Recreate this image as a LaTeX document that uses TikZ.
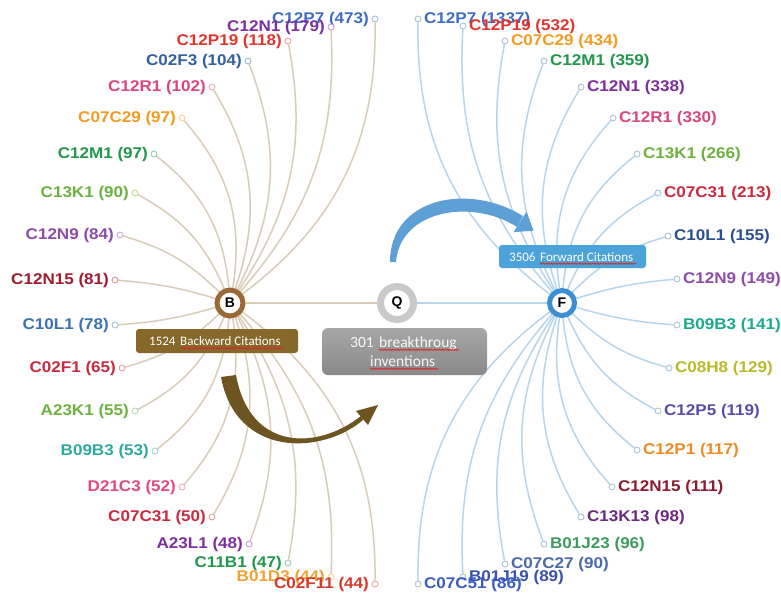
\documentclass[tikz,border=0pt]{standalone}
\usepackage{fontspec}
\usetikzlibrary{calc,decorations.pathmorphing}
\newfontfamily\lblfont{Liberation Sans}[FakeStretch=1.1]
\newfontfamily\hubfont{Liberation Sans}
\newfontfamily\boxfont{Carlito}
\definecolor{spellred}{HTML}{D42A2A}
% label palette
\definecolor{pBlue}{HTML}{3D6DC4}
\definecolor{pPurple}{HTML}{7E2E9E}
\definecolor{pRed}{HTML}{E2352B}
\definecolor{pSteel}{HTML}{35609F}
\definecolor{pPink}{HTML}{D94680}
\definecolor{pOrange}{HTML}{F39B22}
\definecolor{pGreen}{HTML}{22974B}
\definecolor{pLime}{HTML}{6DB13E}
\definecolor{pViolet}{HTML}{8E4BA8}
\definecolor{pDarkRed}{HTML}{A01C2C}
\definecolor{pMidBlue}{HTML}{3B72B2}
\definecolor{pCrimson}{HTML}{C92B3F}
\definecolor{pTeal}{HTML}{2EA8A3}
\definecolor{pRose}{HTML}{E04A7E}
\definecolor{pAmber}{HTML}{F0A232}
\definecolor{pVermil}{HTML}{D63A2C}
\definecolor{pNavy}{HTML}{2C4E8E}
\definecolor{pSea}{HTML}{1BAA8E}
\definecolor{pOlive}{HTML}{B9BA2C}
\definecolor{pIndigo}{HTML}{5B4BAA}
\definecolor{pTangerine}{HTML}{F08B24}
\definecolor{pMaroon}{HTML}{8B1B2D}
\definecolor{pPlum}{HTML}{6B2A7E}
\definecolor{pFern}{HTML}{3C9B5E}
\definecolor{pSlate}{HTML}{4A6BAA}
\definecolor{pRoyal}{HTML}{3A52AC}
\definecolor{pCobalt}{HTML}{3B5CC2}
% structure colours
\definecolor{lineTan}{HTML}{D9CDB9}
\definecolor{lineBlue}{HTML}{B7D5EB}
\definecolor{ringB}{HTML}{9A6A36}
\definecolor{ringQ}{HTML}{C9C9C9}
\definecolor{ringF}{HTML}{3D8FD1}
\definecolor{boxBrown}{HTML}{86692A}
\definecolor{boxBlue}{HTML}{4BA3D9}
\definecolor{boxGrayTop}{HTML}{A6A6A6}
\definecolor{boxGrayBot}{HTML}{8A8A8A}
\definecolor{arrBrown}{HTML}{6E5421}
\definecolor{arrBlue}{HTML}{5E9FD6}
\pgfdeclarelayer{bg}
\pgfsetlayers{bg,main}

\begin{document}
\begin{tikzpicture}[x=1pt,y=-1pt,
  lline/.style={line width=1.5pt, draw=lineTan},
  rline/.style={line width=1.5pt, draw=lineBlue},
  endpt/.style={circle, minimum size=6pt, inner sep=0pt, line width=0.9pt, fill=white},
  lbl/.style={font=\lblfont\bfseries\fontsize{15.5}{16}\selectfont, inner sep=0pt},
  hub/.style={circle, fill=white, inner sep=0pt, font=\hubfont\bfseries\fontsize{14}{14}\selectfont},
  citebox/.style={rounded corners=3pt, inner sep=0pt},
  boxtxt/.style={inner sep=0pt, anchor=base west, text=white, font=\boxfont\fontsize{13}{15}\selectfont},
  bigtxt/.style={inner sep=0pt, anchor=base west, text=white!95!gray, font=\boxfont\fontsize{15.5}{18}\selectfont},
  spell/.style={spellred, line width=0.7pt, decorate,
        decoration={snake, amplitude=0.8pt, segment length=2.6pt}}
]
\useasboundingbox (0,0) rectangle (781,595);
\begin{pgfonlayer}{bg}
  \fill[white] (0,0) rectangle (781,595);
\end{pgfonlayer}

% hubs
\node[hub, draw=ringB, line width=5pt, minimum size=26pt] (B) at (230,303) {B};
\node[hub, draw=ringQ, line width=7pt, minimum size=33pt] (Q) at (397,303) {Q};
\node[hub, draw=ringF, line width=5pt, minimum size=25pt] (F) at (562,303) {F};

\begin{pgfonlayer}{bg}
  \draw[lline] (B) -- (Q);
  \draw[rline] (Q) -- (F);
\end{pgfonlayer}

% backward citation classes
\foreach \n/\x/\y/\t/\c/\b in {
  l1/375/19/C12P7 (473)/pBlue/27,
  l2/331/27/C12N1 (179)/pPurple/22,
  l3/288/41/C12P19 (118)/pRed/22,
  l4/248/61/C02F3 (104)/pSteel/24,
  l5/212/87/C12R1 (102)/pPink/25,
  l6/182/118/C07C29 (97)/pOrange/25,
  l7/154/154/C12M1 (97)/pGreen/23,
  l8/135/193/C13K1 (90)/pLime/19,
  l9/120/235/C12N9 (84)/pViolet/14,
  l10/115/280/C12N15 (81)/pDarkRed/6,
  l11/115/325/C10L1 (78)/pMidBlue/-6,
  l12/122/368/C02F1 (65)/pCrimson/-14,
  l13/135/411/A23K1 (55)/pLime/-19,
  l14/155/451/B09B3 (53)/pTeal/-23,
  l15/182/487/D21C3 (52)/pRose/-25,
  l16/212/517/C07C31 (50)/pCrimson/-25,
  l17/249/544/A23L1 (48)/pPurple/-24,
  l18/288/563/C11B1 (47)/pGreen/-22,
  l19/331/577/B01D3 (44)/pAmber/-22,
  l20/375/584/C02F11 (44)/pVermil/-27}
{
  \node[endpt, draw=\c!45] (\n) at (\x,\y) {};
  \node[lbl, text=\c, anchor=east] (\n-t) at ([xshift=-2.5pt]\n.west) {\t};
  \begin{pgfonlayer}{bg}
    \draw[lline] (B) to[bend right=\b] (\n);
  \end{pgfonlayer}
}

% forward citation classes
\foreach \n/\x/\y/\t/\c/\b in {
  r1/418/19/C12P7 (1337)/pBlue/27,
  r2/463/26/C12P19 (532)/pRed/22,
  r3/505/41/C07C29 (434)/pOrange/22,
  r4/544/61/C12M1 (359)/pGreen/24,
  r5/581/87/C12N1 (338)/pPurple/25,
  r6/613/118/C12R1 (330)/pPink/25,
  r7/637/154/C13K1 (266)/pLime/23,
  r8/658/193/C07C31 (213)/pCrimson/19,
  r9/668/236/C10L1 (155)/pNavy/14,
  r10/677/279/C12N9 (149)/pViolet/6,
  r11/677/325/B09B3 (141)/pSea/-6,
  r12/669/368/C08H8 (129)/pOlive/-14,
  r13/658/411/C12P5 (119)/pIndigo/-19,
  r14/637/450/C12P1 (117)/pTangerine/-23,
  r15/612/487/C12N15 (111)/pMaroon/-25,
  r16/581/517/C13K13 (98)/pPlum/-25,
  r17/544/544/B01J23 (96)/pFern/-24,
  r18/505/564/C07C27 (90)/pSlate/-22,
  r19/463/577/B01J19 (89)/pRoyal/-22,
  r20/418/584/C07C51 (86)/pCobalt/-27}
{
  \node[endpt, draw=lineBlue!80!gray] (\n) at (\x,\y) {};
  \node[lbl, text=\c, anchor=west] (\n-t) at ([xshift=2.5pt]\n.east) {\t};
  \begin{pgfonlayer}{bg}
    \draw[rline] (F) to[bend left=\b] (\n);
  \end{pgfonlayer}
}

% caption boxes
\node[citebox, fill=boxBrown, minimum width=162pt, minimum height=24pt] (bbox) at (217,341) {};
\node[boxtxt] (bnum) at (149,345.5) {1524};
\node[boxtxt] (bword) at (180,345.5) {Backward Citations};
\draw[spell] ([yshift=-2.6pt]bword.base west) -- ([yshift=-2.6pt, xshift=3pt]bword.base east);

\node[citebox, fill=boxBlue, minimum width=147pt, minimum height=23pt] (fbox) at (572.5,256.5) {};
\node[boxtxt] (fnum) at (509,261) {3506};
\node[boxtxt] (fword) at (540,261) {Forward Citations};
\draw[spell] ([yshift=-2.6pt]fword.base west) -- ([yshift=-2.6pt, xshift=3pt]fword.base east);

\node[rounded corners=6pt, inner sep=0pt, minimum width=165pt, minimum height=47pt,
      top color=boxGrayTop, bottom color=boxGrayBot] (qbox) at (404.5,351.5) {};
\node[bigtxt] (qnum) at (350,347) {301};
\node[bigtxt] (qword) at (379,347) {breakthroug};
\node[bigtxt] (qword2) at (370,366) {inventions};
\draw[spell] ([yshift=-2.8pt]qword.base west) -- ([yshift=-2.8pt, xshift=2pt]qword.base east);
\draw[spell] ([yshift=-2.8pt]qword2.base west) -- ([yshift=-2.8pt, xshift=3pt]qword2.base east);

% brown sweep arrow (backward -> query)
\fill[arrBrown] (221,377) .. controls (236,458) and (322,455) .. (363,420)
  -- (361,416) .. controls (318,450) and (250,452) .. (236,375) -- cycle;
\fill[arrBrown] (368,425) -- (378,405) -- (356,411) -- cycle;

% blue sweep arrow (query -> forward)
\fill[arrBlue] (390,262) .. controls (390,198) and (468,182) .. (523,216)
  -- (517,227) .. controls (472,198) and (400,210) .. (396,262) -- cycle;
\fill[arrBlue] (513.5,232.2) -- (533.6,230.6) -- (526.5,211.8) -- cycle;
\end{tikzpicture}
\end{document}
